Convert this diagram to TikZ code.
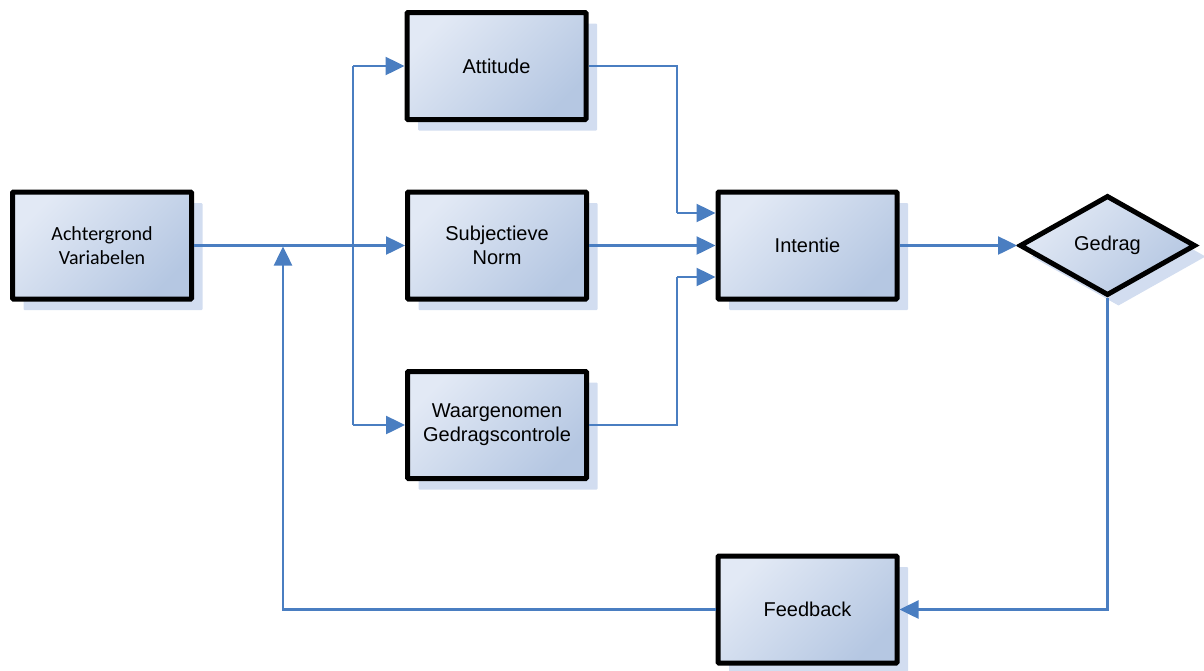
\documentclass[tikz,border=0pt]{standalone}
\usepackage{fontspec}
\setmainfont{Liberation Sans}
\newfontfamily\calib{Carlito}
\usetikzlibrary{arrows.meta,shapes.geometric,shadows}
\definecolor{lineblue}{RGB}{74,126,193}
\definecolor{boxlight}{RGB}{226,233,245}
\definecolor{boxdark}{RGB}{181,199,226}
\definecolor{shadowc}{RGB}{210,221,240}
\tikzset{
  arr/.style={draw=lineblue, line width=2.5pt, -{Triangle[length=19pt,width=18pt]}},
  conn/.style={draw=lineblue, line width=2.5pt},
  boxshade/.style={top color=boxlight, bottom color=boxdark, shading angle=45,
    draw=black, line width=5pt,
    drop shadow={shadow xshift=11pt, shadow yshift=-11pt, fill=shadowc, opacity=1}},
  stepbox/.style={boxshade, rectangle, rounded corners=1pt, minimum width=179pt, minimum height=107pt,
    inner sep=0pt, align=center, font=\fontsize{20}{24}\selectfont},
  decbox/.style={boxshade, diamond, line join=miter, minimum width=176pt, minimum height=100pt,
    inner sep=0pt, align=center, font=\fontsize{20}{24}\selectfont}
}
\begin{document}
\begin{tikzpicture}[x=1pt,y=-1pt]
\useasboundingbox (0,0) rectangle (1204,670);
\node[stepbox, font=\fontsize{20}{24}\selectfont\calib] (ach) at (102,245.5) {Achtergrond\\Variabelen};
\node[stepbox] (att) at (496.5,66) {Attitude};
\node[stepbox] (sub) at (497,245.5) {Subjectieve\\Norm};
\node[stepbox] (wg) at (497,425) {Waargenomen\\Gedragscontrole};
\node[stepbox] (int) at (807.5,245.5) {Intentie};
\node[decbox] (ged) at (1107.5,245.5) {\raisebox{-2pt}{Gedrag}};
\node[stepbox] (fb) at (807.5,609.5) {Feedback};

\coordinate (va) at (353,66);
\coordinate (vb) at (353,425);
\coordinate (ja) at (677,213);
\coordinate (jb) at (677,277);
\coordinate (fj) at (283,246.5);

\draw[arr] (ach.east) -- (sub.west);
\draw[conn] (va) -- (vb);
\draw[arr] (va) -- (att.west);
\draw[arr] (vb) -- (wg.west);
\draw[conn] (att.east) -| (ja);
\draw[arr] (ja) -- (ja -| int.west);
\draw[arr] (sub.east) -- (int.west);
\draw[conn] (wg.east) -| (jb);
\draw[arr] (jb) -- (jb -| int.west);
\draw[arr] (int.east) -- (ged.west);
\draw[arr] (ged.south) |- (fb.east);
\draw[arr] (fb.west) -| (fj);
\end{tikzpicture}
\end{document}
